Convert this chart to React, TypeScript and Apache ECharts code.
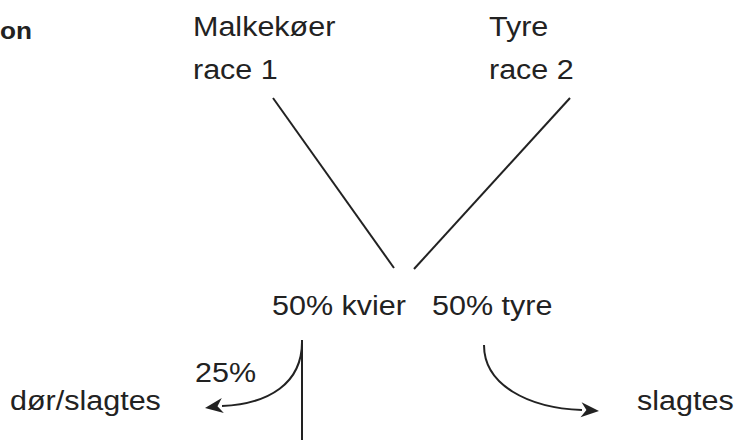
import React, { useEffect, useRef } from "react";
import * as echarts from "echarts";

// Diagram texts
const titleFragment = "on";
const parentLabels = ["Malkekøer\nrace 1", "Tyre\nrace 2"];
const offspringLabels = ["50% kvier", "50% tyre"];
const shareLabels = ["25%"];
const fateLabels = ["dør/slagtes", "slagtes"];

const INK = "#222222";
const FONT = '"Liberation Sans", Arial, sans-serif';
const SX = 1.09;

function label(text: string, x: number, y: number, size = 28, weight = "normal") {
  return {
    type: "text",
    x,
    y,
    scaleX: SX,
    silent: true,
    style: {
      text,
      x: 0,
      y: 0,
      fill: INK,
      font: `${weight} ${size}px ${FONT}`,
      textAlign: "left",
      verticalAlign: "middle",
      lineHeight: 43,
    },
  };
}

function arrowHead(tx: number, ty: number, angleDeg: number, len = 18, half = 7.5) {
  const a = (angleDeg * Math.PI) / 180;
  const dx = Math.cos(a), dy = Math.sin(a);
  const bx = tx - dx * len, by = ty - dy * len;
  const nx = -dy, ny = dx;
  return {
    type: "polygon",
    silent: true,
    shape: {
      points: [
        [tx, ty],
        [bx + nx * half, by + ny * half],
        [tx - dx * len * 0.7, ty - dy * len * 0.7],
        [bx - nx * half, by - ny * half],
      ],
    },
    style: { fill: INK },
  };
}

const lineStyle = { stroke: INK, lineWidth: 2, fill: "none" };

export default function App() {
  const ref = useRef<HTMLDivElement>(null);
  useEffect(() => {
    document.body.style.margin = "0";
    const chart = echarts.init(ref.current!, null, { renderer: "svg" });
    chart.setOption({
      animation: false,
      backgroundColor: "#ffffff",
      graphic: [
        label(titleFragment, 0, 30, 24, "bold"),
        label(parentLabels[0], 193, 47.5),
        label(parentLabels[1], 489, 47.5),
        {
          type: "line",
          silent: true,
          shape: { x1: 273, y1: 98, x2: 394, y2: 268 },
          style: lineStyle,
        },
        {
          type: "line",
          silent: true,
          shape: { x1: 570, y1: 98, x2: 414, y2: 269 },
          style: lineStyle,
        },
        label(offspringLabels[0], 272, 305),
        label(offspringLabels[1], 432, 305),
        {
          type: "line",
          silent: true,
          shape: { x1: 302, y1: 340, x2: 302, y2: 440 },
          style: lineStyle,
        },
        {
          type: "bezierCurve",
          silent: true,
          shape: { x1: 302, y1: 340, cpx1: 303, cpy1: 384, cpx2: 268, cpy2: 404, x2: 222, y2: 406 },
          style: lineStyle,
        },
        arrowHead(205, 408, 172),
        {
          type: "bezierCurve",
          silent: true,
          shape: { x1: 484, y1: 345, cpx1: 484, cpy1: 385, cpx2: 528, cpy2: 408, x2: 582, y2: 410 },
          style: lineStyle,
        },
        arrowHead(599, 411, 4),
        label(shareLabels[0], 195, 372),
        label(fateLabels[0], 10, 400),
        label(fateLabels[1], 637, 400),
      ],
    });
    return () => chart.dispose();
  }, []);
  return <div ref={ref} style={{ width: 734, height: 440 }} />;
}
